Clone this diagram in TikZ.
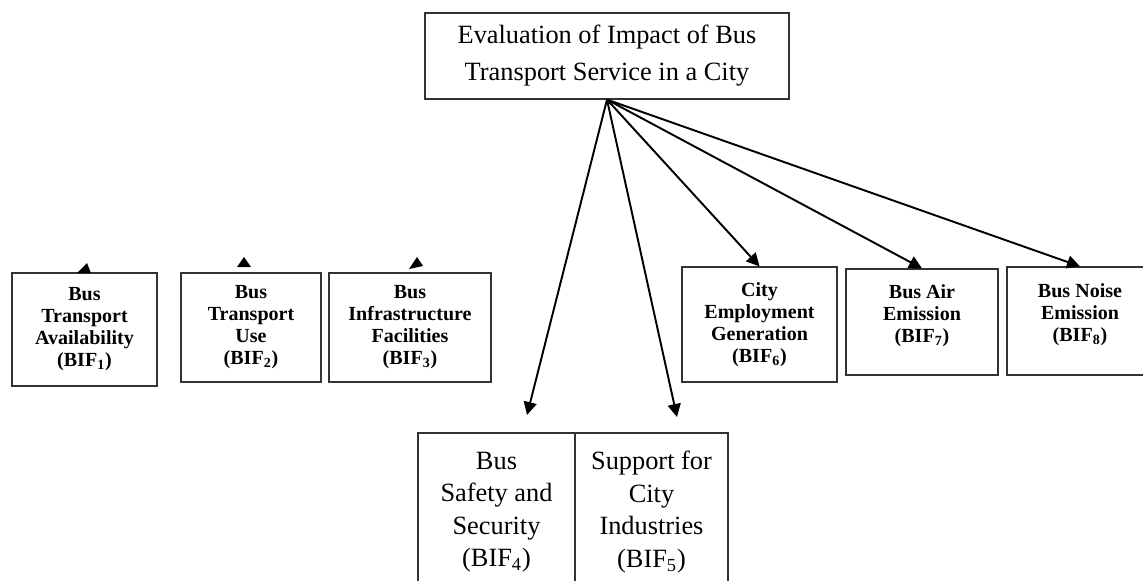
\documentclass[tikz,border=0pt]{standalone}
\usepackage{fontspec}
\setmainfont{Liberation Serif}
\usetikzlibrary{arrows.meta}

\begin{document}
\begin{tikzpicture}[
  box/.style={draw=black!80, line width=0.7pt, align=center, inner sep=0pt},
  bif/.style={box, font=\fontsize{11.4}{12.5}\selectfont\bfseries},
  cell/.style={box, minimum height=3.16cm, font=\fontsize{15}{18.5}\selectfont},
  link/.style={line width=1.1pt, -{Triangle[length=0.26cm, width=0.26cm]}}
]
\useasboundingbox (0,0) rectangle (22.86,-11.6);
% main box
\node[box, minimum width=7.28cm, minimum height=1.72cm, font=\fontsize{15}{21}\selectfont] (eval) at (12.14,-1.12) {Evaluation of Impact of Bus\\Transport Service in a City};
% impact factors
\node[bif, minimum width=2.9cm, minimum height=2.26cm] (bif1) at (1.69,-6.59) {Bus\\Transport\\Availability\\(BIF\textsubscript{1})};
\node[bif, minimum width=2.8cm, minimum height=2.18cm] (bif2) at (5.02,-6.55) {Bus\\Transport\\Use\\(BIF\textsubscript{2})};
\node[bif, minimum width=3.24cm, minimum height=2.18cm] (bif3) at (8.2,-6.55) {Bus\\Infrastructure\\Facilities\\(BIF\textsubscript{3})};
\node[cell, minimum width=3.14cm] (bif4) at (9.93,-10.24) {Bus\\Safety and\\Security\\(BIF\textsubscript{4})};
\node[cell, minimum width=3.06cm] (bif5) at (13.03,-10.24) {Support for\\City\\Industries\\(BIF\textsubscript{5})};
\node[bif, minimum width=3.1cm, minimum height=2.3cm] (bif6) at (15.19,-6.49) {City\\Employment\\Generation\\(BIF\textsubscript{6})};
\node[bif, minimum width=3.04cm, minimum height=2.12cm, text depth=0.33cm] (bif7) at (18.44,-6.44) {Bus Air\\Emission\\(BIF\textsubscript{7})};
\node[bif, minimum width=2.92cm, minimum height=2.16cm, text depth=0.33cm] (bif8) at (21.6,-6.42) {Bus Noise\\Emission\\(BIF\textsubscript{8})};
% arrows
\coordinate (end4) at (10.54,-8.30);
\coordinate (end5) at (13.54,-8.34);
\draw[link] (eval.south) -- (end4);
\draw[link] (eval.south) -- (end5);
\draw[link] (eval.south) -- (bif6.north);
\draw[link] (eval.south) -- (bif7.north);
\draw[link] (eval.south) -- (bif8.north);
% loose arrow heads
\fill (1.54,-5.46) -- (1.82,-5.46) -- (1.74,-5.26) -- cycle;
\fill (4.74,-5.34) -- (5.02,-5.34) -- (4.88,-5.14) -- cycle;
\fill (8.18,-5.38) -- (8.46,-5.32) -- (8.34,-5.14) -- cycle;
\end{tikzpicture}
\end{document}
